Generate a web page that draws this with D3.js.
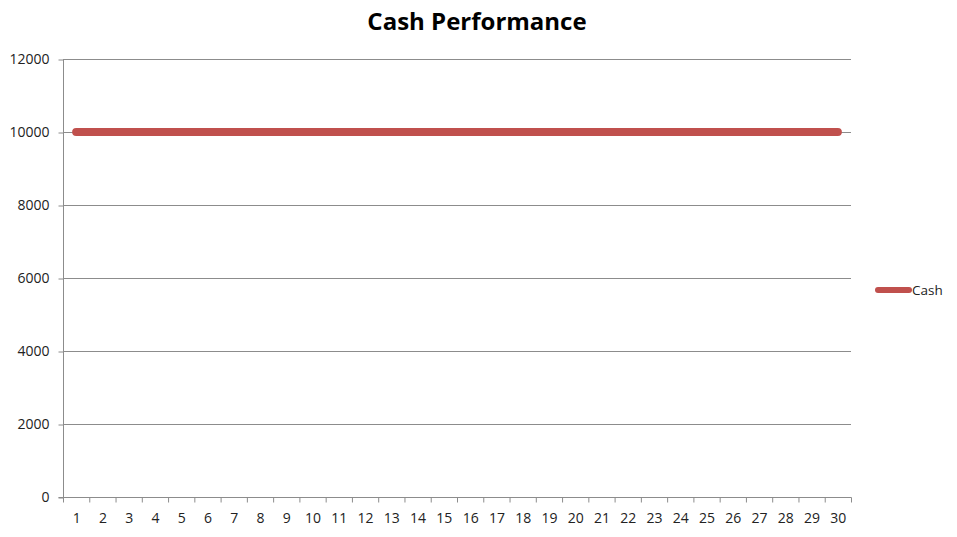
<!DOCTYPE html>
<html><head><meta charset="utf-8">
<script src="https://cdn.jsdelivr.net/npm/d3@7"></script>
<style>body{margin:0;background:#fff;}svg{display:block;}</style>
</head><body>
<svg id="c" width="957" height="537"></svg>
<script>
const categories = d3.range(1, 31).map(String);
const cashValues = [10000,10000,10000,10000,10000,10000,10000,10000,10000,10000,10000,10000,10000,10000,10000,10000,10000,10000,10000,10000,10000,10000,10000,10000,10000,10000,10000,10000,10000,10000];
const yTicks = [0,2000,4000,6000,8000,10000,12000];
const seriesName = "Cash";
const title = "Cash Performance";

(function(){
const svg = d3.select("#c");
const pL = 63, pR = 851, pT = 59, pB = 497;
const x = d3.scaleBand().domain(categories).range([pL, pR]);
const y = d3.scaleLinear().domain([0, 12000]).range([pB, pT]);
const font = "'Open Sans', sans-serif";

svg.append("rect").attr("width",957).attr("height",537).attr("fill","#fff");

// gridlines
svg.append("g").selectAll("line").data(yTicks.filter(d=>d>0)).join("line")
  .attr("x1", pL).attr("x2", pR).attr("y1", d=>y(d)+0.5).attr("y2", d=>y(d)+0.5)
  .attr("stroke", "#8c8c8c").attr("stroke-width", 1);

// y axis
const ya = svg.append("g").attr("transform", `translate(${pL+0.5},0.5)`)
  .call(d3.axisLeft(y).tickValues(yTicks).tickSize(5).tickPadding(9).tickFormat(d3.format("d")));
ya.select(".domain").attr("stroke","#8c8c8c").attr("d", `M0,${pT}V${pB}`);
ya.selectAll(".tick line").attr("stroke","#8c8c8c");
ya.selectAll("text").attr("font-family", font).attr("font-size", 14).attr("fill","#222");

// x axis
const xa = svg.append("g").attr("transform", `translate(0.5,${pB+0.5})`)
  .call(d3.axisBottom(x).tickSize(0).tickPadding(16));
xa.select(".domain").attr("stroke","#8c8c8c").attr("d", `M${pL-5},0H${pR}`);
xa.selectAll("text").attr("font-family", font).attr("font-size", 14).attr("fill","#222");
const bounds = categories.map(c=>x(c)).concat([pR]);
xa.append("g").selectAll("line").data(bounds).join("line")
  .attr("x1", d=>d).attr("x2", d=>d).attr("y1", 0).attr("y2", 5).attr("stroke","#8c8c8c");

// line
const line = d3.line().x((d,i)=>x(categories[i]) + x.bandwidth()/2).y(d=>y(d));
svg.append("path").datum(cashValues).attr("d", line)
  .attr("fill","none").attr("stroke","#C0504D").attr("stroke-width",8)
  .attr("stroke-linecap","round").attr("stroke-linejoin","round");

// title
svg.append("text").attr("x", 477).attr("y", 30).attr("text-anchor","middle")
  .attr("font-family", font).attr("font-weight","bold").attr("font-size", 24).attr("fill","#000").text(title);

// legend
svg.append("line").attr("x1",878).attr("x2",909).attr("y1",290).attr("y2",290)
  .attr("stroke","#C0504D").attr("stroke-width",6).attr("stroke-linecap","round");
svg.append("text").attr("x",912).attr("y",295).attr("font-family",font).attr("font-size",13.5).attr("fill","#222").text(seriesName);
})();
</script>
</body></html>
